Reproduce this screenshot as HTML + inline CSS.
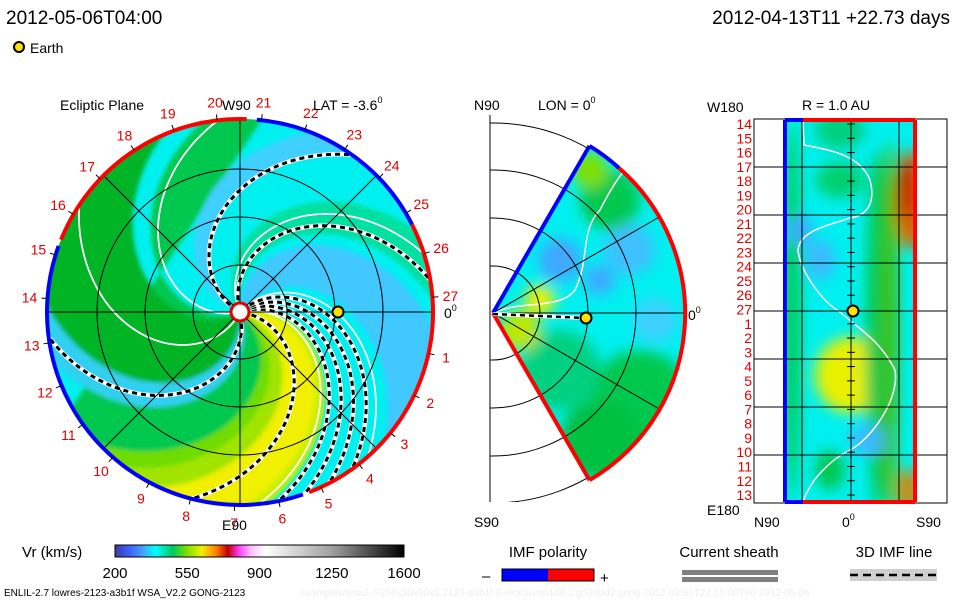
<!DOCTYPE html>
<html><head><meta charset="utf-8"><style>
html,body{margin:0;padding:0;background:#fff;}
svg{display:block;font-family:"Liberation Sans",sans-serif;}
</style></head><body>
<svg id="s" width="960" height="600" viewBox="0 0 960 600" xmlns="http://www.w3.org/2000/svg">
<defs>
<clipPath id="cc"><circle cx="240" cy="312" r="193"/></clipPath>
<clipPath id="wc"><path d="M493,313 L589.5,145.9 A193,193 0 0 1 589.5,480.1 Z"/></clipPath>
<clipPath id="rc"><rect x="785" y="120" width="130" height="382"/></clipPath>
<clipPath id="bx"><rect x="490" y="115" width="200" height="387"/></clipPath>
<filter id="bl" x="-50%" y="-50%" width="200%" height="200%"><feGaussianBlur stdDeviation="7"/></filter>
<filter id="bl2" x="-50%" y="-50%" width="200%" height="200%"><feGaussianBlur stdDeviation="2"/></filter>
<linearGradient id="cg" x1="0" x2="1" y1="0" y2="0">
<stop offset="0" stop-color="#3c3ca0"/><stop offset="0.05" stop-color="#4060ff"/><stop offset="0.1" stop-color="#40a8ff"/>
<stop offset="0.14" stop-color="#00ffff"/><stop offset="0.2" stop-color="#00c860"/><stop offset="0.25" stop-color="#80e000"/>
<stop offset="0.3" stop-color="#f0f000"/><stop offset="0.35" stop-color="#ff8000"/><stop offset="0.39" stop-color="#c00000"/>
<stop offset="0.43" stop-color="#ff40ff"/><stop offset="0.47" stop-color="#ffc0ff"/><stop offset="0.52" stop-color="#ffffff"/>
<stop offset="0.75" stop-color="#a0a0a0"/><stop offset="1" stop-color="#000000"/>
</linearGradient>
</defs>

<text x="6" y="24" font-size="19">2012-05-06T04:00</text>
<text x="950" y="24" font-size="19" text-anchor="end">2012-04-13T11 +22.73 days</text>
<circle cx="19" cy="47" r="5" fill="#ffe000" stroke="#000" stroke-width="2"/>
<text x="30" y="53" font-size="14">Earth</text>

<g id="ecl">
  <g clip-path="url(#cc)"><circle cx="240" cy="312" r="193" fill="#00f0f0"/><g id="bands" filter="url(#bl2)"></g><g id="slines"></g></g>
  <g id="egrid" fill="none" stroke="#000" stroke-width="1"></g>
  <g id="eborder" fill="none" stroke-width="4"></g>
  <g id="elabels" font-size="14" fill="#e00000"></g>
  <text x="60" y="110" font-size="14">Ecliptic Plane</text>
  <text x="222" y="110" font-size="14">W90</text>
  <text x="313" y="110" font-size="14">LAT = -3.6<tspan font-size="9" dy="-7">0</tspan></text>
  <text x="222" y="530" font-size="14">E90</text>
  <text x="444" y="318" font-size="14">0<tspan font-size="9" dy="-7">0</tspan></text>
  <circle cx="240" cy="312" r="9" fill="#fff" stroke="#e00000" stroke-width="3"/>
  <circle cx="338" cy="312" r="5.5" fill="#ffe000" stroke="#000" stroke-width="2"/>
</g>

<g id="mer">
  <g clip-path="url(#bx)" fill="none" stroke="#000" id="mgrid"></g>
  <line x1="490" y1="115" x2="490" y2="502" stroke="#000"/>
  <g clip-path="url(#wc)"><rect x="490" y="140" width="200" height="345" fill="#00f0f0"/><g id="mblobs" filter="url(#bl)"></g>
   <path d="M493,313 C520,300 560,310 575,290 C590,260 580,230 600,210 C610,190 620,175 625,170" fill="none" stroke="#fff" stroke-width="1.5"/>
   <g id="mgrid2" fill="none" stroke="#000"></g></g>
  <line x1="493" y1="313" x2="589.5" y2="145.9" stroke="#0000ff" stroke-width="4"/>
  <line x1="493" y1="313" x2="589.5" y2="480.1" stroke="#ff0000" stroke-width="4"/>
  <path d="M589.5,145.9 A193,193 0 0 1 619,168" fill="none" stroke="#0000ff" stroke-width="4"/>
  <path d="M619,168 A193,193 0 0 1 589.5,480.1" fill="none" stroke="#ff0000" stroke-width="4"/>
  <line x1="493" y1="314" x2="586" y2="318" stroke="#fff" stroke-width="4"/>
  <line x1="493" y1="314" x2="586" y2="318" stroke="#000" stroke-width="2.5" stroke-dasharray="5,4"/>
  <circle cx="586" cy="318" r="5.5" fill="#ffe000" stroke="#000" stroke-width="2"/>
  <text x="474" y="110" font-size="14">N90</text>
  <text x="538" y="110" font-size="14">LON = 0<tspan font-size="9" dy="-7">0</tspan></text>
  <text x="474" y="527" font-size="14">S90</text>
  <text x="688" y="320" font-size="14">0<tspan font-size="9" dy="-7">0</tspan></text>
</g>

<g id="rp">
  <rect x="754" y="119" width="193" height="384" fill="#fff" stroke="#000"/>
  <g clip-path="url(#rc)"><rect x="785" y="120" width="130" height="382" fill="#00f0f0"/><g id="rblobs" filter="url(#bl)"></g>
  <path d="M803,120 L804,145 C830,150 860,155 870,180 C875,200 870,215 850,218 C830,225 800,230 798,250 C800,270 820,300 840,312 C860,330 880,340 895,370 C900,400 870,440 850,450 C830,460 810,480 803,502" fill="none" stroke="#fff" stroke-width="1.5"/></g>
  <g id="rgrid" stroke="#000"></g>
  <line x1="785" y1="120" x2="785" y2="502" stroke="#0000ff" stroke-width="4"/>
  <line x1="915" y1="120" x2="915" y2="502" stroke="#ff0000" stroke-width="4"/>
  <line x1="785" y1="120" x2="803" y2="120" stroke="#0000ff" stroke-width="4"/><line x1="803" y1="120" x2="915" y2="120" stroke="#ff0000" stroke-width="4"/>
  <line x1="785" y1="502" x2="803" y2="502" stroke="#0000ff" stroke-width="4"/><line x1="803" y1="502" x2="915" y2="502" stroke="#ff0000" stroke-width="4"/>
  <circle cx="853" cy="311" r="5.5" fill="#ffe000" stroke="#000" stroke-width="2"/>
  <g id="rlabels" font-size="14" fill="#e00000" text-anchor="end"></g>
  <text x="802" y="110" font-size="14">R = 1.0 AU</text>
  <text x="707" y="112" font-size="14">W180</text>
  <text x="707" y="515" font-size="14">E180</text>
  <text x="754" y="527" font-size="14">N90</text>
  <text x="842" y="527" font-size="14">0<tspan font-size="9" dy="-7">0</tspan></text>
  <text x="916" y="527" font-size="14">S90</text>
</g>

<g>
  <text x="22" y="557" font-size="15">Vr (km/s)</text>
  <rect x="115" y="545" width="289" height="12" fill="url(#cg)" stroke="#000"/>
  <g id="cticks" font-size="15" text-anchor="middle"></g>
</g>
<g>
  <text x="548" y="557" font-size="15" text-anchor="middle">IMF polarity</text>
  <rect x="502" y="569" width="46" height="12" fill="#0000ff"/><rect x="548" y="569" width="46" height="12" fill="#ff0000"/>
  <rect x="502" y="569" width="92" height="12" fill="none" stroke="#000"/>
  <text x="482" y="581" font-size="15">–</text><text x="600" y="583" font-size="15">+</text>
</g>
<g>
  <text x="729" y="557" font-size="15" text-anchor="middle">Current sheath</text>
  <rect x="682" y="570" width="96" height="5" fill="#808080"/><rect x="682" y="577" width="96" height="5" fill="#808080"/>
</g>
<g>
  <text x="894" y="557" font-size="15" text-anchor="middle">3D IMF line</text>
  <rect x="850" y="569" width="87" height="12" fill="#d0d0d0"/>
  <line x1="850" y1="575" x2="937" y2="575" stroke="#000" stroke-width="2.5" stroke-dasharray="8,5"/>
</g>
<text x="4" y="596" font-size="10">ENLIL-2.7 lowres-2123-a3b1f WSA_V2.2 GONG-2123</text>
<text x="300" y="596" font-size="10" fill="#eee">examples/wsa2.7/256x30x90x1.2123-a3b1f.8-mcp1umn1cd-1.g53q5d2.gong-2012:03:31T22:15:00T00 2012-05-06</text>
</svg>
<script>
const NS='http://www.w3.org/2000/svg';
const cx=240, cy=312, R=193, K=0.5;
// data arrays
const bandStart=[198,210,275,320,330,340,55,100,150,330];
const bandEnd=[335,280,292,350,375,368,92,122,165,342];
const bandColor=['#00c850','#00b428','#30d0f0','#70dc00','#c8f000','#f0f000','#40c8ff','#00e0a0','#40d0ff','#a0e400'];
const dashedPhases=[151,106,284,352,18,26,34,42];
const whitePhases=[193,114,243,12,48];
const dayLabels=[1,2,3,4,5,6,7,8,9,10,11,12,13,14,15,16,17,18,19,20,21,22,23,24,25,26,27];
const rLabels=[14,15,16,17,18,19,20,21,22,23,24,25,26,27,1,2,3,4,5,6,7,8,9,10,11,12,13];
const cbTicks=[200,550,900,1250,1600];
const gridRadii=[47,95,143];
const borderSegStart=[88,160,291,27];
const borderSegEnd=[158,289,387,85];
const borderSegColor=['#ff0000','#0000ff','#ff0000','#0000ff'];

function el(tag,attrs,parent){const e=document.createElementNS(NS,tag);for(const k in attrs)e.setAttribute(k,attrs[k]);parent.appendChild(e);return e;}
function sp(phase,r){const t=(phase-K*r)*Math.PI/180;return [cx+r*Math.cos(t),cy-r*Math.sin(t)];}
function spiral(phase,r0,r1){const p=[];for(let r=r0;r<=r1;r+=4)p.push(sp(phase,r));return p;}
function pstr(p){return p.map(q=>q[0].toFixed(1)+','+q[1].toFixed(1)).join(' ');}

const bands=document.getElementById('bands');
for(let i=0;i<bandStart.length;i++){
  const a=spiral(bandStart[i],0,240), b=spiral(bandEnd[i],0,240).reverse();
  const p=el('polygon',{points:pstr(a.concat(b)),fill:bandColor[i]},bands);
  
  
}
const sl=document.getElementById('slines');
whitePhases.forEach(ph=>{const l=el('polyline',{points:pstr(spiral(ph,10,240)),fill:'none',stroke:'#fff','stroke-width':1.8},sl);
  
  });
dashedPhases.forEach(ph=>{const pts=pstr(spiral(ph,12,240));
  el('polyline',{points:pts,fill:'none',stroke:'#fff','stroke-width':4.5},sl);
  const l=el('polyline',{points:pts,fill:'none',stroke:'#000','stroke-width':3,'stroke-dasharray':'5,4'},sl);
  
  });

const eg=document.getElementById('egrid');
gridRadii.forEach(r=>el('circle',{cx:cx,cy:cy,r:r},eg));
[0,45,90,135].forEach(a=>{const t=a*Math.PI/180;el('line',{x1:cx-R*Math.cos(t),y1:cy+R*Math.sin(t),x2:cx+R*Math.cos(t),y2:cy-R*Math.sin(t)},eg);});
const eb=document.getElementById('eborder');
for(let i=0;i<borderSegStart.length;i++){
  const a0=borderSegStart[i]*Math.PI/180,a1=borderSegEnd[i]*Math.PI/180;
  const x0=cx+R*Math.cos(a0),y0=cy-R*Math.sin(a0),x1=cx+R*Math.cos(a1),y1=cy-R*Math.sin(a1);
  const large=(borderSegEnd[i]-borderSegStart[i])>180?1:0;
  const p=el('path',{d:`M${x0},${y0} A${R},${R} 0 ${large} 0 ${x1},${y1}`,stroke:borderSegColor[i]},eb);
  
  
}
const elb=document.getElementById('elabels');
dayLabels.forEach(n=>{const t=(4.4+(27-n)*13.2)*Math.PI/180;
  const x=cx+211*Math.cos(t),y=cy-211*Math.sin(t)+5;
  const tx=el('text',{x:x,y:y,'text-anchor':'middle'},elb);tx.textContent=n;
  
  
  el('line',{x1:cx+193*Math.cos(t),y1:cy-193*Math.sin(t),x2:cx+199*Math.cos(t),y2:cy-199*Math.sin(t),stroke:'#000'},elb);});

// meridional
const mx=493,my=313;
const mg=document.getElementById('mgrid');
[47,95,143,190].forEach(r=>el('circle',{cx:mx,cy:my,r:r},mg));
const mg2=document.getElementById('mgrid2');
[47,95,143].forEach(r=>el('circle',{cx:mx,cy:my,r:r},mg2));
[-30,0,30].forEach(a=>{const t=a*Math.PI/180;el('line',{x1:mx,y1:my,x2:mx+200*Math.cos(t),y2:my-200*Math.sin(t)},mg2);});
const mBlobX=[640,600,560,520,610,560,630,600,655,540,590];
const mBlobY=[400,440,370,330,200,260,250,280,320,300,170];
const mBlobR=[50,40,40,20,30,22,25,15,22,15,18];
const mBlobC=['#00c850','#00c040','#00d080','#c0e800','#00c850','#40a8ff','#40c0ff','#40a8ff','#40d0ff','#f0f000','#80e000'];
const mb=document.getElementById('mblobs');
for(let i=0;i<mBlobX.length;i++){const c=el('circle',{cx:mBlobX[i],cy:mBlobY[i],r:mBlobR[i],fill:mBlobC[i]},mb);
  
  }

// right panel
const rBlobX=[792,910,908,850,840,878,800,840,820,870,890,905,830];
const rBlobY=[310,200,490,375,180,330,230,130,260,440,330,190,470];
const rBlobRx=[8,14,10,35,25,12,12,25,15,20,8,8,15];
const rBlobRy=[190,50,22,38,18,180,15,20,20,15,190,30,20];
const rBlobC=['#00c850','#e06000','#e08000','#e8f000','#00d070','#00c850','#40a8ff','#00d080','#40b8ff','#40b8ff','#40c000','#c00000','#00c850'];
const rb=document.getElementById('rblobs');
for(let i=0;i<rBlobX.length;i++){const c=el('ellipse',{cx:rBlobX[i],cy:rBlobY[i],rx:rBlobRx[i],ry:rBlobRy[i],fill:rBlobC[i]},rb);
  
  }
const rg=document.getElementById('rgrid');
[167,215,263,311,359,407,455].forEach(y=>el('line',{x1:754,y1:y,x2:947,y2:y},rg));
[802,851,899].forEach(x=>el('line',{x1:x,y1:119,x2:x,y2:503},rg));
const rl=document.getElementById('rlabels');
rLabels.forEach((n,i)=>{const y=124+i*14.27;
  const t=el('text',{x:752,y:y+5},rl);t.textContent=n;
  
  
  el('line',{x1:847,y1:y,x2:855,y2:y,stroke:'#000'},rg);});

const ct=document.getElementById('cticks');
cbTicks.forEach(v=>{const x=115+(v-200)/1400*289;const t=el('text',{x:x,y:578},ct);t.textContent=v;
  
  });
</script>
</body></html>
